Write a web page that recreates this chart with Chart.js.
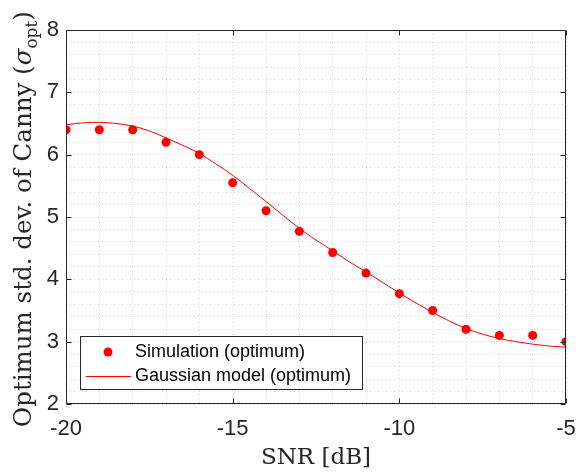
<!DOCTYPE html>
<html><head><meta charset="utf-8">
<script src="https://cdn.jsdelivr.net/npm/chart.js@4/dist/chart.umd.min.js"></script>
<style>html,body{margin:0;padding:0;background:#fff;}canvas{display:block;}</style>
</head><body>
<canvas id="c" width="579" height="474"></canvas>
<script>
// ---- data ----
const snrSim = [-20,-19,-18,-17,-16,-15,-14,-13,-12,-11,-10,-9,-8,-7,-6,-5];
const sigmaSim = [6.40,6.40,6.40,6.20,6.00,5.55,5.10,4.77,4.43,4.10,3.77,3.50,3.20,3.10,3.10,3.00];
const snrModel = [-20,-19.5,-19,-18.5,-18,-17.5,-17,-16.5,-16,-15.5,-15,-14.5,-14,-13.5,-13,-12.5,-12,-11.5,-11,-10.5,-10,-9.5,-9,-8.5,-8,-7.5,-7,-6.5,-6,-5.5,-5];
const sigmaModel = [6.48,6.51,6.52,6.50,6.46,6.38,6.27,6.15,6.02,5.85,5.67,5.46,5.25,5.03,4.82,4.63,4.46,4.28,4.12,3.95,3.78,3.62,3.47,3.33,3.21,3.12,3.05,3.00,2.96,2.93,2.91];
const xTickLabels = [-20,-15,-10,-5];
const yTickLabels = [2,3,4,5,6,7,8];
const labelSim = 'Simulation (optimum)';
const labelModel = 'Gaussian model (optimum)';
const xTitle = 'SNR [dB]';
const yTitleMain = 'Optimum std. dev. of Canny (';
const yTitleSym = 'σ';
const yTitleSub = 'opt';
const yTitleEnd = ')';

const AX = '#262626';
const RED = '#ff0000';
const SANS = '"Liberation Sans", Arial, Helvetica, sans-serif';
const SERIF = '"DejaVu Serif", "Liberation Serif", serif';

const framePlugin = {
  id: 'frame',
  afterDraw(chart) {
    const ctx = chart.ctx, a = chart.chartArea;
    const xs = chart.scales.x, ys = chart.scales.y;
    ctx.save();
    ctx.strokeStyle = AX; ctx.lineWidth = 1;
    const L = Math.round(a.left)+0.5, R = Math.round(a.right)-0.5, T = Math.round(a.top)+0.5, B = Math.round(a.bottom)-0.5;
    ctx.beginPath();
    ctx.rect(L, T, R-L, B-T);
    ctx.stroke();
    const tl = 5;
    ctx.beginPath();
    xTickLabels.forEach(v => {
      const px = Math.round(xs.getPixelForValue(v))+0.5;
      ctx.moveTo(px, B); ctx.lineTo(px, B-tl);
      ctx.moveTo(px, T); ctx.lineTo(px, T+tl);
    });
    yTickLabels.forEach(v => {
      const py = Math.round(ys.getPixelForValue(v))+0.5;
      ctx.moveTo(L, py); ctx.lineTo(L+tl, py);
      ctx.moveTo(R, py); ctx.lineTo(R-tl, py);
    });
    ctx.stroke();

    // y-axis title (with subscript)
    ctx.fillStyle = AX;
    ctx.textBaseline = 'alphabetic';
    const fs = 24.5;
    const fMain = fs + 'px ' + SERIF;
    const fSym = 'italic ' + fs + 'px ' + SERIF;
    const fSub = Math.round(fs*0.7) + 'px ' + SERIF;
    ctx.font = fMain; const w1 = ctx.measureText(yTitleMain).width; const w4 = ctx.measureText(yTitleEnd).width;
    ctx.font = fSym; const w2 = ctx.measureText(yTitleSym).width;
    ctx.font = fSub; const w3 = ctx.measureText(yTitleSub).width;
    const total = w1+w2+w3+w4;
    const cy = 219;
    ctx.translate(31, cy);
    ctx.rotate(-Math.PI/2);
    let x0 = -total/2;
    ctx.font = fMain; ctx.fillText(yTitleMain, x0, 0); x0 += w1;
    ctx.font = fSym; ctx.fillText(yTitleSym, x0, 0); x0 += w2;
    ctx.font = fSub; ctx.fillText(yTitleSub, x0, fs*0.25); x0 += w3;
    ctx.font = fMain; ctx.fillText(yTitleEnd, x0, 0);
    ctx.restore();

    // legend box
    ctx.save();
    const lx = 80.5, ly = 336.5, lw = 282, lh = 53;
    ctx.fillStyle = '#fff'; ctx.fillRect(lx, ly, lw, lh);
    ctx.strokeStyle = AX; ctx.lineWidth = 1; ctx.strokeRect(lx, ly, lw, lh);
    const ds = chart.data.datasets;
    ctx.fillStyle = RED;
    ctx.beginPath(); ctx.arc(108, 352, 4.5, 0, Math.PI*2); ctx.fill();
    ctx.strokeStyle = RED; ctx.beginPath(); ctx.moveTo(86, 376.5); ctx.lineTo(131, 376.5); ctx.stroke();
    ctx.fillStyle = '#000'; ctx.font = '18px ' + SANS; ctx.textBaseline = 'middle'; ctx.textAlign = 'left';
    ctx.fillText(ds[0].label, 135, 352);
    ctx.fillText(ds[1].label, 135, 376);
    ctx.restore();
  }
};

new Chart(document.getElementById('c'), {
  type: 'scatter',
  data: {
    datasets: [
      { label: labelSim, data: snrSim.map((x,i)=>({x, y: sigmaSim[i]})),
        showLine: false, pointRadius: 4.5, pointHoverRadius: 4.5,
        backgroundColor: RED, borderColor: RED, borderWidth: 0, order: 1 },
      { label: labelModel, data: snrModel.map((x,i)=>({x, y: sigmaModel[i]})),
        showLine: true, pointRadius: 0, borderColor: RED, borderWidth: 1,
        tension: 0.4, cubicInterpolationMode: 'monotone', fill: false, order: 2 }
    ]
  },
  options: {
    responsive: false, animation: false, devicePixelRatio: 1,
    layout: { padding: { top: 30, right: 13, left: 0, bottom: 0 } },
    plugins: { legend: { display: false }, tooltip: { enabled: false } },
    scales: {
      x: {
        type: 'linear', min: -20, max: -5,
        afterFit: s => { s.height = 70; s.paddingLeft = 0; s.paddingRight = 0; },
        ticks: { stepSize: 1, autoSkip: false, maxRotation: 0, padding: 12,
          color: AX, font: { family: SANS, size: 22 },
          callback: v => xTickLabels.some(t => Math.abs(t - v) < 1e-6) ? String(v) : '' },
        grid: { drawTicks: false, color: '#d4d4d4', lineWidth: 1 },
        border: { display: false, dash: [1, 3] },
        title: { display: true, text: xTitle, color: AX, font: { family: SERIF, size: 23 }, padding: { top: 0, bottom: 2 } }
      },
      y: {
        type: 'linear', min: 2, max: 8,
        afterFit: s => { s.width = 66; s.paddingTop = 0; s.paddingBottom = 0; },
        ticks: { stepSize: 0.2, autoSkip: false, padding: 7,
          color: AX, font: { family: SANS, size: 22 },
          callback: v => yTickLabels.some(t => Math.abs(t - v) < 1e-6) ? String(Math.round(v)) : '' },
        grid: { drawTicks: false, color: '#d4d4d4', lineWidth: 1 },
        border: { display: false, dash: [1, 3] }
      }
    }
  },
  plugins: [framePlugin]
});
</script>
</body></html>
